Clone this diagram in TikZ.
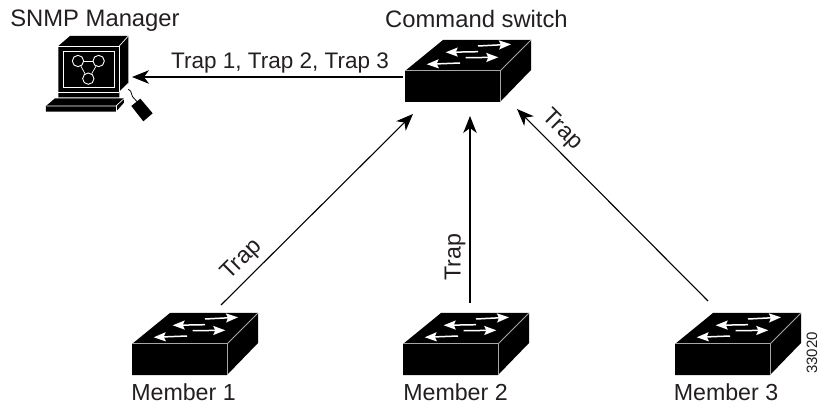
\documentclass[tikz,border=0pt]{standalone}
\usepackage{fontspec}
\setmainfont{Liberation Sans}
\usetikzlibrary{arrows.meta}
\definecolor{ink}{HTML}{231F20}
\tikzset{
  x=1pt,y=-1pt,
  lab/.style={inner sep=0pt,text=ink,font=\fontsize{23.2}{28}\selectfont},
  biglab/.style={lab,anchor=base,font=\fontsize{23.8}{28}\selectfont},
  trapslab/.style={lab,anchor=base,font=\fontsize{22.5}{28}\selectfont},
  memberlab/.style={lab,anchor=base},
  smalllab/.style={inner sep=0pt,text=ink,font=\fontsize{15}{18}\selectfont},
  conn/.style={draw=black,line width=1.1pt,-{Stealth[length=17pt,width=13.5pt,inset=5pt]}},
  anchorbox/.style={inner sep=0pt,minimum width=126pt,minimum height=62pt},
  swarrow/.style={draw=white,line width=1.5pt,-{Stealth[length=12pt,width=9pt,inset=2pt]}},
  pics/switchbox/.style={code={
    \fill[black] (-32,31) -- (6,0) -- (94,0) -- (94,30) -- (63,62) -- (-32,62) -- cycle;
    \draw[gray!70,line width=1pt] (-32,31) -- (63,31) -- (63,62);
    \draw[gray!70,line width=0.9pt] (63,31) -- (94,0);
    \draw[swarrow] (41,6) -- (74,4.3);
    \draw[swarrow] (41,11.7) -- (8.7,12.3);
    \draw[swarrow] (28.7,17.7) -- (61.3,17.3);
    \draw[swarrow] (23,23) -- (-10.3,24.3);
  }}
}
\begin{document}
\begin{tikzpicture}
\useasboundingbox (0,0) rectangle (820,406);

% switches (placeholders name each device; the pic draws its shape)
\node[anchorbox] (cmd) at (468,71) {};
\pic at (437,40) {switchbox};
\node[anchorbox] (m1) at (195,344) {};
\pic at (164,313) {switchbox};
\node[anchorbox] (m2) at (466,344) {};
\pic at (435,313) {switchbox};
\node[anchorbox] (m3) at (738,344) {};
\pic at (707,313) {switchbox};

% computer
\node[inner sep=0pt,minimum width=110pt,minimum height=90pt] (mgr) at (100,78) {};
\begin{scope}[x=0.3333pt,y=-0.3333pt]
  \fill[black] (175,138) -- (210,108) -- (385,108) -- (385,250) -- (358,275) -- (358,292) -- (175,292) -- cycle;
  \draw[white,line width=0.7pt] (358,138) -- (385,108);
  \draw[white,line width=0.7pt] (175,138) -- (358,138) -- (358,275);
  \draw[white,line width=0.7pt] (175,277) -- (358,277);
  \draw[white,line width=0.7pt] (358,277) -- (385,250);
  \draw[white,line width=0.9pt] (190,153) rectangle (342,262);
  \draw[white,line width=0.9pt] (234,183) circle[radius=17];
  \draw[white,line width=0.9pt] (296,183) circle[radius=17];
  \draw[white,line width=0.9pt] (265,236) circle[radius=17];
  \draw[white,line width=0.7pt] (251,183) -- (279,183);
  \draw[white,line width=0.7pt] (243,199) -- (255,221);
  \draw[white,line width=0.7pt] (288,199) -- (275,221);
  \fill[black] (138,318) -- (165,295) -- (372,295) -- (372,308) -- (348,335) -- (138,335) -- cycle;
  \draw[white,line width=0.7pt] (140,318) -- (348,318) -- (372,296);
  \draw[white,line width=0.7pt] (348,318) -- (348,335);
  \draw[black,line width=0.8pt] (385,268) .. controls (398,272) and (392,290) .. (403,296) -- (412,306);
  \fill[black] (394,318) -- (421,296) -- (458,340) -- (430,364) -- cycle;
\end{scope}

% connector ends
\coordinate (cmdL) at (403,77);
\coordinate (mgrR) at (132,77);
\coordinate (m1T) at (221,305);
\coordinate (cmdA) at (413,114);
\coordinate (m2T) at (470,303);
\coordinate (cmdB) at (470,116);
\coordinate (m3T) at (708,301);
\coordinate (cmdC) at (517,109);

\draw[conn] (cmdL) -- (mgrR);
\draw[conn] (m1T) -- (cmdA);
\draw[conn] (m2T) -- (cmdB);
\draw[conn] (m3T) -- (cmdC);

% labels
\node[biglab] (lmgr) at (95,27) {SNMP Manager};
\node[biglab] (lcmd) at (476.5,28) {Command switch};
\node[trapslab] (ltraps) at (280,69) {Trap 1, Trap 2, Trap 3};
\node[lab,rotate=45] (lt1) at (242,260) {Trap};
\node[lab,rotate=90] (lt2) at (455,257) {Trap};
\node[lab,rotate=-45] (lt3) at (562,130) {Trap};
\node[memberlab] (lm1) at (183.5,400) {Member 1};
\node[memberlab] (lm2) at (455.5,400) {Member 2};
\node[memberlab] (lm3) at (726,400) {Member 3};
\node[smalllab,rotate=90] (lnum) at (812,353) {33020};
\end{tikzpicture}
\end{document}
